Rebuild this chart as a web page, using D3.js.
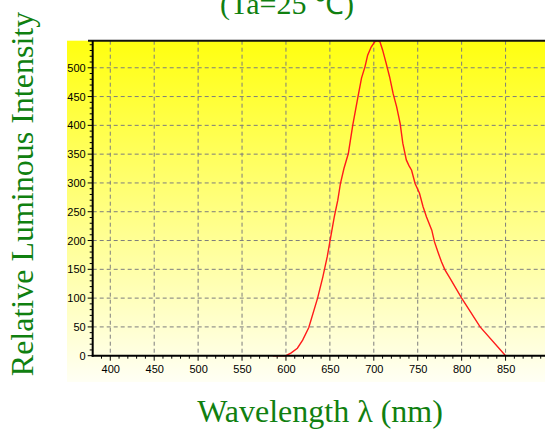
<!DOCTYPE html>
<html>
<head>
<meta charset="utf-8">
<script src="https://cdn.jsdelivr.net/npm/d3@7"></script>
<style>
  body { margin: 0; background: #fff; }
  svg { display: block; }
  .tick text { font-family: "Liberation Sans", Arial, sans-serif; font-size: 11px; fill: #000; }
  .label { font-family: "Liberation Serif", "Times New Roman", serif; fill: #108010; }
</style>
</head>
<body>
<div id="chart"></div>
<script>
// spectrum
let wavelength = [585, 600, 606, 613, 619, 626, 636, 642, 647, 650, 655, 659, 662, 666, 671, 676,
  682, 686, 690, 693, 697, 701, 704, 707, 710, 714, 718, 722, 726, 730, 733, 737, 740, 743, 747,
  752, 756, 760, 766, 769, 773, 777, 781, 787, 800, 821, 850]
let intensity = [0, 0, 5, 13, 27, 49, 100, 137, 172, 198, 241, 270, 299, 325, 351, 400,
  450, 482, 502, 522, 536, 545, 547, 545, 531, 508, 484, 455, 432, 403, 369, 340, 330, 322, 299,
  282, 259, 241, 218, 198, 180, 163, 149, 134, 100, 50, 0]
let xTicks = [400, 450, 500, 550, 600, 650, 700, 750, 800, 850]
let yTicks = [0, 50, 100, 150, 200, 250, 300, 350, 400, 450, 500]

window.addEventListener('load', () => {
  let W = 545, H = 433
  let left = 92.7, right = 549.5, top = 40.7, bottom = 355.7

  let x = d3.scaleLinear().domain([380, 900]).range([left, right])
  let y = d3.scaleLinear().domain([0, 547]).range([bottom, top])

  let svg = d3.select('#chart')
    .append('svg')
    .attr('width', W)
    .attr('height', H)
    .attr("xmlns", "http://www.w3.org/2000/svg")

  let grad = svg.append('defs').append('linearGradient')
    .attr('id', 'bg')
    .attr('x1', 0).attr('y1', 0).attr('x2', 0).attr('y2', 1)
  grad.append('stop').attr('offset', '0%').attr('stop-color', '#ffff10')
  grad.append('stop').attr('offset', '100%').attr('stop-color', '#fffff4')

  svg.append('rect')
    .attr('x', 67)
    .attr('y', top)
    .attr('width', W - 67)
    .attr('height', 382 - top)
    .attr('fill', 'url(#bg)')

  // dashed grid
  let grid = svg.append('g')
    .attr('stroke', '#7d7d7d')
    .attr('stroke-width', 1)
    .attr('stroke-dasharray', '4,3')
  grid.selectAll('.gx')
    .data(xTicks)
    .join('line')
    .attr('x1', d => x(d)).attr('x2', d => x(d))
    .attr('y1', top).attr('y2', bottom)
  grid.selectAll('.gy')
    .data(yTicks.filter(d => d > 0))
    .join('line')
    .attr('x1', left).attr('x2', W)
    .attr('y1', d => y(d)).attr('y2', d => y(d))

  // minor ticks every 10
  let minorX = d3.range(390, 900, 10)
  svg.append('g')
    .attr('stroke', '#000')
    .selectAll('line')
    .data(minorX)
    .join('line')
    .attr('x1', d => x(d)).attr('x2', d => x(d))
    .attr('y1', bottom).attr('y2', d => bottom + (d % 50 == 0 ? 5 : 3))
  let minorY = d3.range(0, 547, 10)
  svg.append('g')
    .attr('stroke', '#000')
    .selectAll('line')
    .data(minorY)
    .join('line')
    .attr('x1', d => left - (d % 50 == 0 ? 5 : 3)).attr('x2', left)
    .attr('y1', d => y(d)).attr('y2', d => y(d))

  let xAxis = svg.append('g')
    .attr('transform', `translate(0,${bottom})`)
    .call(d3.axisBottom(x).tickValues(xTicks).tickSize(0).tickPadding(10))
  xAxis.select('.domain').remove()

  let yAxis = svg.append('g')
    .attr('transform', `translate(${left},0)`)
    .call(d3.axisLeft(y).tickValues(yTicks).tickSize(0).tickPadding(7))
  yAxis.select('.domain').remove()

  // spectrum
  let pts = wavelength.map((w, i) => [w, intensity[i]])
  svg.append('path')
    .datum(pts)
    .attr('fill', 'none')
    .attr('stroke', '#ff1a1a')
    .attr('stroke-width', 1.4)
    .attr('d', d3.line().x(d => x(d[0])).y(d => y(d[1])))

  // frame lines
  svg.append('line')
    .attr('x1', 88).attr('x2', W).attr('y1', top).attr('y2', top)
    .attr('stroke', '#111').attr('stroke-width', 2)
  svg.append('line')
    .attr('x1', left).attr('x2', left).attr('y1', top).attr('y2', bottom + 1)
    .attr('stroke', '#000').attr('stroke-width', 2)
  svg.append('line')
    .attr('x1', left - 1).attr('x2', W).attr('y1', bottom).attr('y2', bottom)
    .attr('stroke', '#000').attr('stroke-width', 2)

  // texts
  svg.append('text')
    .attr('class', 'label')
    .attr('x', 287)
    .attr('y', 14)
    .attr('text-anchor', 'middle')
    .attr('font-size', 30)
    .text('(Ta=25 ℃)')

  svg.append('text')
    .attr('class', 'label')
    .attr('x', 320)
    .attr('y', 421.5)
    .attr('text-anchor', 'middle')
    .attr('font-size', 32)
    .text('Wavelength λ (nm)')

  svg.append('text')
    .attr('class', 'label')
    .attr('transform', 'translate(33,194) rotate(-90)')
    .attr('text-anchor', 'middle')
    .attr('font-size', 32)
    .text('Relative Luminous Intensity')
})
</script>
</body>
</html>
